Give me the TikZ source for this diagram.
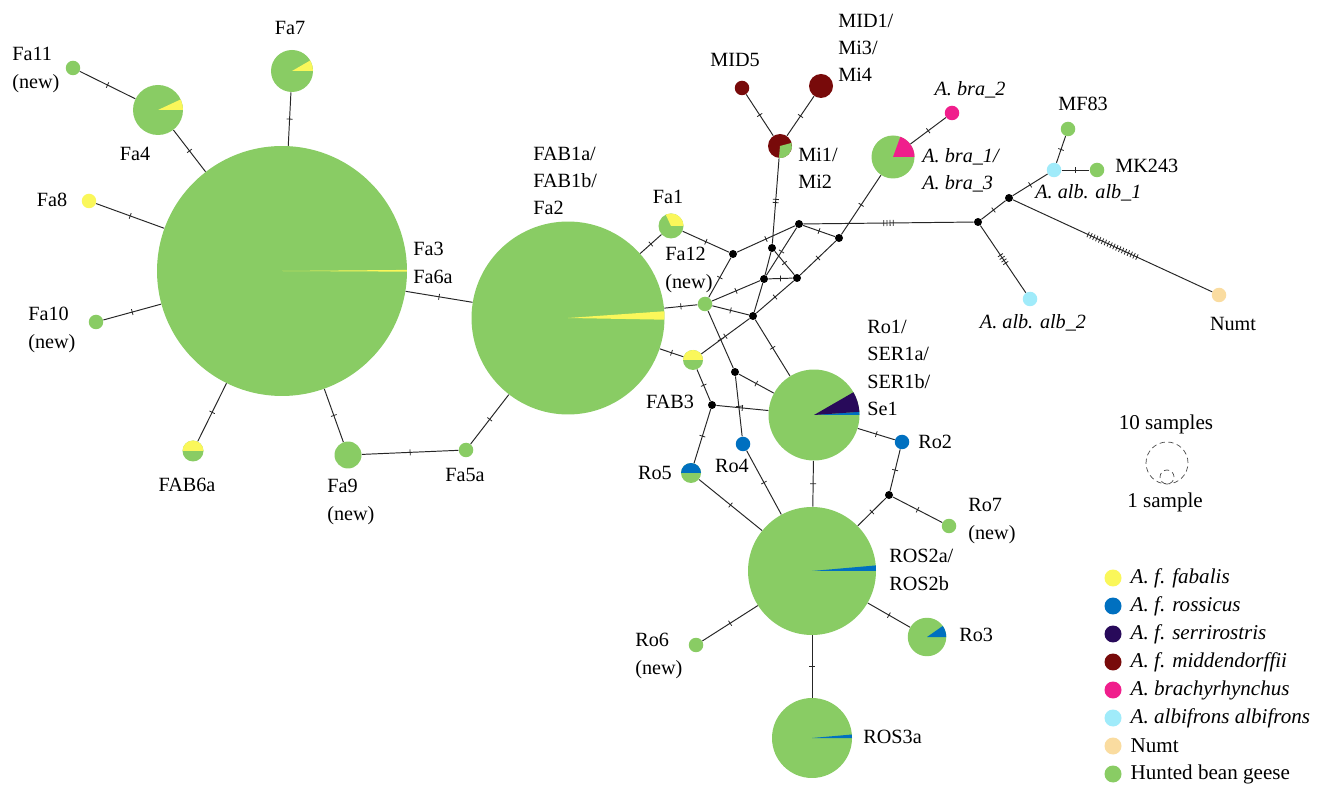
\documentclass[tikz,border=0pt]{standalone}
\usepackage{fontspec}
\setmainfont{Liberation Serif}
\usetikzlibrary{decorations.markings, positioning}

\definecolor{bean}{RGB}{137,204,100}
\definecolor{fab}{RGB}{250,247,90}
\definecolor{ros}{RGB}{0,112,192}
\definecolor{ser}{RGB}{40,10,90}
\definecolor{mid}{RGB}{120,10,10}
\definecolor{bra}{RGB}{240,30,140}
\definecolor{alb}{RGB}{160,235,250}
\definecolor{numtc}{RGB}{250,220,160}

\newcommand{\labfont}{\fontsize{11.5}{15.5}\selectfont}
\newcommand{\legfont}{\fontsize{12}{14}\selectfont}
% pie slice: node, colour, radius, start angle, end angle
\newcommand{\slice}[5]{\fill[#2] (#1.center) -- ++(#4:#3) arc[start angle=#4, end angle=#5, radius=#3] -- cycle;}

\begin{document}
\begin{tikzpicture}[
    x=0.02cm, y=0.02cm,
    hap/.style={circle, fill=bean, inner sep=0pt, minimum size=0.29cm},
    med/.style={circle, fill=black, inner sep=0pt, minimum size=0.16cm},
    conn/.style={line width=0.55pt, black!85},
    mut/.style={postaction={decorate}, decoration={markings, mark=at position 0.5 with {\foreach \k in {1,...,#1} {\draw[line width=0.45pt] ({(\k-(#1+1)/2)*1.8pt},-1.7pt) -- ++(0,3.4pt);}}}},
    mut/.default=1,
    lab/.style={font=\labfont, inner sep=0pt, align=left},
    keydot/.style={circle, inner sep=0pt, minimum size=0.34cm},
    keytxt/.style={font=\legfont, inner sep=0pt, anchor=west},
    sizering/.style={circle, draw=black!70, densely dashed, line width=0.4pt, inner sep=0pt}
]

% White background
\fill[white] (0,0) rectangle (1328,-786);
\useasboundingbox (0,0) rectangle (1328,-786);

% ==================== HAPLOTYPES ====================

% Fa cluster
\node[hap, minimum size=5cm] (fa3) at (282,-271) {};
\node[hap, minimum size=3.86cm] (fab1) at (568,-318) {};
\node[hap, minimum size=1cm] (fa4) at (158,-110) {};
\node[hap, minimum size=0.84cm] (fa7) at (292,-71) {};
\node[hap] (fa11) at (73,-68) {};
\node[hap, fill=fab] (fa8) at (89,-201) {};
\node[hap] (fa10) at (96,-322) {};
\node[hap, minimum size=0.42cm] (fab6a) at (193,-451) {};
\node[hap, minimum size=0.54cm] (fa9) at (348,-455) {};
\node[hap] (fa5a) at (466,-450) {};
\node[hap, minimum size=0.5cm] (fa1) at (671,-226) {};
\node[hap] (fa12) at (705,-304) {};
\node[hap, minimum size=0.4cm] (fab3) at (693,-360) {};

% middendorffii
\node[hap, fill=mid, minimum size=0.48cm] (mi1) at (780,-146) {};
\node[hap, fill=mid] (mid5) at (742,-88) {};
\node[hap, fill=mid, minimum size=0.48cm] (mid1) at (821,-86) {};

% brachyrhynchus / albifrons
\node[hap, minimum size=0.86cm] (abra1) at (893,-157) {};
\node[hap, fill=bra] (abra2) at (952,-113) {};
\node[hap] (mf83) at (1068,-129) {};
\node[hap, fill=alb] (aalb1) at (1054,-170) {};
\node[hap] (mk243) at (1097,-170) {};
\node[hap, fill=alb] (aalb2) at (1030,-299) {};
\node[hap, fill=numtc] (numt) at (1219,-295) {};

% Ro cluster
\node[hap, minimum size=1.82cm] (ro1) at (814,-415) {};
\node[hap, fill=ros] (ro2) at (902,-442) {};
\node[hap, fill=ros] (ro4) at (743,-444) {};
\node[hap, minimum size=0.4cm] (ro5) at (691,-473) {};
\node[hap] (ro7) at (949,-526) {};
\node[hap, minimum size=2.56cm] (ros2) at (812,-571) {};
\node[hap, minimum size=0.77cm] (ro3) at (927,-637) {};
\node[hap] (ro6) at (696,-645) {};
\node[hap, minimum size=1.6cm] (ros3) at (812,-738) {};

% Median vectors
\node[med] (j1) at (1009,-198) {};
\node[med] (j2) at (978,-222) {};
\node[med] (b1) at (733,-254) {};
\node[med] (b2) at (799,-224) {};
\node[med] (b3) at (772,-248) {};
\node[med] (b4) at (839,-238) {};
\node[med] (b5) at (764,-279) {};
\node[med] (b6) at (797,-278) {};
\node[med] (b7) at (753,-316) {};
\node[med] (b8) at (735,-372) {};
\node[med] (b9) at (712,-405) {};
\node[med] (b10) at (889,-495) {};

% Pie slices
\slice{fa3}{fab}{2.5cm}{-0.3}{0.5}
\slice{fab1}{fab}{1.93cm}{-1}{4}
\slice{fa4}{fab}{0.5cm}{0}{25}
\slice{fa7}{fab}{0.42cm}{0}{30}
\slice{fa1}{fab}{0.25cm}{0}{115}
\slice{fab6a}{fab}{0.21cm}{0}{180}
\slice{fab3}{fab}{0.2cm}{0}{180}
\slice{mi1}{bean}{0.24cm}{-95}{15}
\slice{abra1}{bra}{0.43cm}{0}{70}
\slice{ro1}{ros}{0.91cm}{0}{4}
\slice{ro1}{ser}{0.91cm}{4}{30}
\slice{ro5}{ros}{0.2cm}{0}{180}
\slice{ros2}{ros}{1.28cm}{0}{5}
\slice{ro3}{ros}{0.385cm}{0}{35}
\slice{ros3}{ros}{0.8cm}{0}{5}

% ==================== CONNECTIONS ====================

% Fa cluster
\draw[conn, mut] (fa11) -- (fa4);
\draw[conn, mut] (fa4) -- (fa3);
\draw[conn, mut] (fa7) -- (fa3);
\draw[conn, mut] (fa8) -- (fa3);
\draw[conn, mut] (fa10) -- (fa3);
\draw[conn, mut] (fab6a) -- (fa3);
\draw[conn, mut] (fa9) -- (fa3);
\draw[conn, mut] (fa9) -- (fa5a);
\draw[conn, mut] (fa5a) -- (fab1);
\draw[conn, mut] (fa3) -- (fab1);
\draw[conn, mut] (fab1) -- (fa1);
\draw[conn, mut] (fab1) -- (fa12);
\draw[conn, mut] (fab1) -- (fab3);

% Central mesh
\draw[conn, mut] (fa1) -- (b1);
\draw[conn, mut] (b1) -- (b2);
\draw[conn, mut] (b1) -- (fa12);
\draw[conn, mut] (b2) -- (b4);
\draw[conn, mut] (b2) -- (b5);
\draw[conn, mut=2] (mi1) -- (b3);
\draw[conn] (b3) -- (b5);
\draw[conn, mut] (b3) -- (b6);
\draw[conn, mut] (b5) -- (b6);
\draw[conn, mut] (b4) -- (b6);
\draw[conn, mut] (b4) -- (abra1);
\draw[conn] (b5) -- (b7);
\draw[conn, mut] (b6) -- (b7);
\draw[conn, mut] (fa12) -- (b5);
\draw[conn, mut] (fa12) -- (b7);
\draw[conn, mut] (fa12) -- (b8);
\draw[conn, mut] (fab3) -- (b7);
\draw[conn, mut] (b7) -- (ro1);
\draw[conn, mut] (fab3) -- (b9);

% middendorffii / outgroups
\draw[conn, mut] (mi1) -- (mid5);
\draw[conn, mut] (mi1) -- (mid1);
\draw[conn, mut] (abra1) -- (abra2);
\draw[conn, mut=4] (b2) -- (j2);
\draw[conn, mut] (j2) -- (j1);
\draw[conn, mut=4] (j2) -- (aalb2);
\draw[conn, mut] (j1) -- (aalb1);
\draw[conn, mut] (aalb1) -- (mf83);
\draw[conn, mut] (aalb1) -- (mk243);
\draw[conn, mut=18] (j1) -- (numt);

% Ro cluster
\draw[conn, mut] (b8) -- (ro1);
\draw[conn, mut] (b8) -- (ro4);
\draw[conn, mut] (b9) -- (ro1);
\draw[conn, mut] (b9) -- (ro5);
\draw[conn, mut] (ro5) -- (ros2);
\draw[conn, mut] (ro4) -- (ros2);
\draw[conn, mut] (ro1) -- (ros2);
\draw[conn, mut] (ro1) -- (ro2);
\draw[conn, mut] (ro2) -- (b10);
\draw[conn, mut] (b10) -- (ros2);
\draw[conn, mut] (b10) -- (ro7);
\draw[conn, mut] (ros2) -- (ro3);
\draw[conn, mut] (ros2) -- (ro6);
\draw[conn, mut] (ros2) -- (ros3);

% ==================== LABELS ====================

\node[lab, anchor=west] (fa11lab) at (12,-70) {Fa11\\(new)};
\node[lab] (fa4lab) at (135,-154) {Fa4};
\node[lab] (fa7lab) at (290,-28) {Fa7};
\node[lab] (fa8lab) at (52,-200) {Fa8};
\node[lab, anchor=west] (fa3lab) at (413,-263) {Fa3\\Fa6a};
\node[lab, anchor=west] (fa10lab) at (28,-330) {Fa10\\(new)};
\node[lab] (fab6alab) at (187,-485) {FAB6a};
\node[lab, anchor=west] (fa9lab) at (327,-502) {Fa9\\(new)};
\node[lab] (fa5alab) at (465,-475) {Fa5a};
\node[lab, anchor=west] (fab1lab) at (533,-181) {FAB1a/\\FAB1b/\\Fa2};
\node[lab] (fa1lab) at (668,-197) {Fa1};
\node[lab] (mid5lab) at (735,-60) {MID5};
\node[lab, anchor=west] (mid1lab) at (838,-48) {MID1/\\Mi3/\\Mi4};
\node[lab, anchor=west] (mi1lab) at (798,-168) {Mi1/\\Mi2};
\node[lab] (abra2lab) at (970,-90) {\textit{A. bra\_2}};
\node[lab, anchor=west] (abra1lab) at (922,-170) {\textit{A. bra\_1/}\\\textit{A. bra\_3}};
\node[lab] (mf83lab) at (1083,-104) {MF83};
\node[lab, anchor=west] (mk243lab) at (1115,-166) {MK243};
\node[lab, anchor=west] (aalb1lab) at (1035,-193) {\textit{A. alb. alb\_1}};
\node[lab] (aalb2lab) at (1033,-323) {\textit{A. alb. alb\_2}};
\node[lab] (numtlab) at (1233,-324) {Numt};
\node[lab, anchor=west] (fa12lab) at (665,-270) {Fa12\\(new)};
\node[lab, anchor=west] (ro1lab) at (867,-368) {Ro1/\\SER1a/\\SER1b/\\Se1};
\node[lab] (fab3lab) at (670,-402) {FAB3};
\node[lab, anchor=west] (ro2lab) at (918,-442) {Ro2};
\node[lab] (ro4lab) at (732,-466) {Ro4};
\node[lab] (ro5lab) at (655,-473) {Ro5};
\node[lab, anchor=west] (ro7lab) at (968,-521) {Ro7\\(new)};
\node[lab, anchor=west] (ros2lab) at (889,-570) {ROS2a/\\ROS2b};
\node[lab, anchor=west] (ro3lab) at (959,-635) {Ro3};
\node[lab, anchor=west] (ro6lab) at (635,-656) {Ro6\\(new)};
\node[lab, anchor=west] (ros3lab) at (863,-737) {ROS3a};

% ==================== LEGEND ====================

\node[keytxt, anchor=center] (ten) at (1166,-424) {10 samples};
\node[sizering, minimum size=0.84cm] (tencirc) at (1167,-463) {};
\node[sizering, minimum size=0.28cm] (onecirc) at (1167,-477) {};
\node[keytxt, anchor=center] (one) at (1165,-502) {1 sample};

\foreach \col/\txt [count=\i] in {fab/\textit{A. f. fabalis}, ros/\textit{A. f. rossicus}, ser/\textit{A. f. serrirostris}, mid/\textit{A. f. middendorffii}, bra/\textit{A. brachyrhynchus}, alb/\textit{A. albifrons albifrons}, numtc/Numt, bean/Hunted bean geese} {
  \node[keydot, fill=\col] (key\i) at (1113,{-550-28*\i}) {};
  \node[keytxt, right=0.17cm of key\i] (keytxt\i) {\txt};
}

\end{tikzpicture}
\end{document}
